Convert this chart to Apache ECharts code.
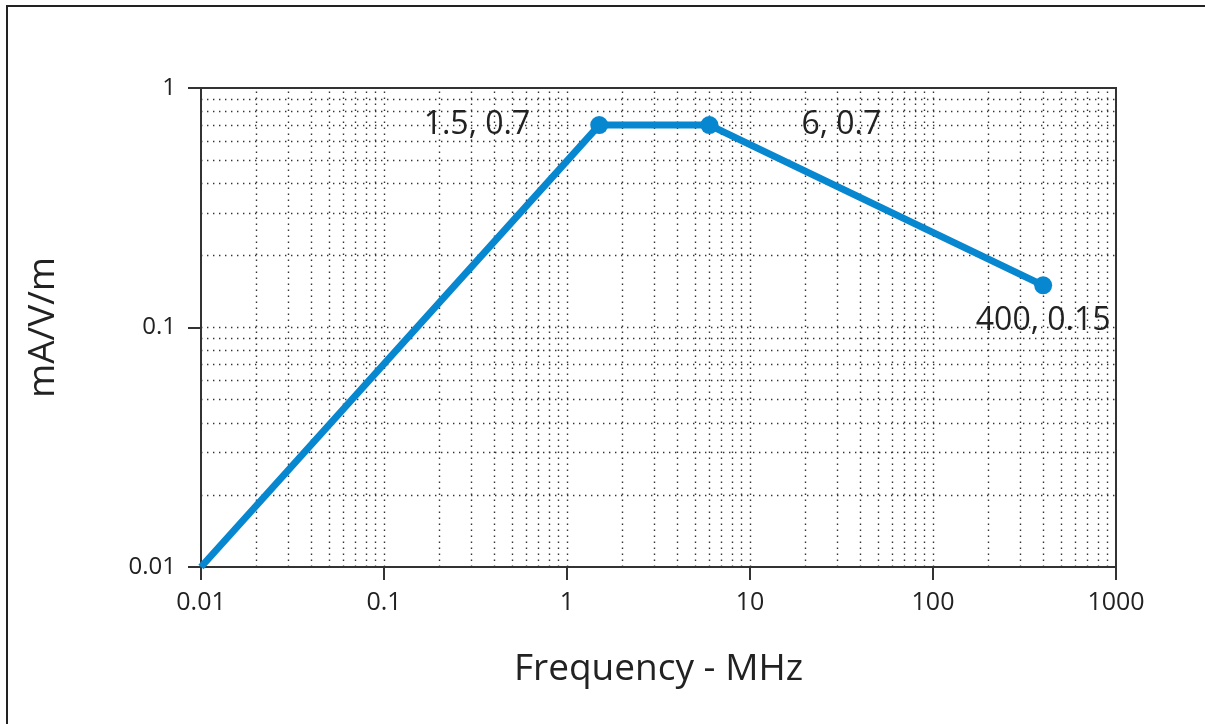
<!DOCTYPE html>
<html>
<head>
<meta charset="utf-8">
<script src="https://cdn.jsdelivr.net/npm/echarts@6/dist/echarts.min.js"></script>
<style>
  html, body { margin: 0; padding: 0; background: #fff; }
  #chart { width: 1205px; height: 724px; }
</style>
</head>
<body>
<div id="chart"></div>
<script>
// data
var freq = [0.01, 1.5, 6, 400];
var current = [0.01, 0.7, 0.7, 0.15];
var pointLabels = ['', '1.5, 0.7', '6, 0.7', '400, 0.15'];
var xTickLabels = ['0.01', '0.1', '1', '10', '100', '1000'];
var yTickLabels = ['0.01', '0.1', '1'];

// dotted log grid: 1..9 in each decade
var steps = [1, 2, 3, 4, 5, 6, 7, 8, 9];
var xDecades = [0.01, 0.1, 1, 10, 100];
var yDecades = [0.01, 0.1];

function gridValues(decades) {
    var out = [];
    decades.forEach(function (d) {
        steps.forEach(function (s) {
            var v = parseFloat((d * s).toPrecision(6));
            if (v !== decades[0]) out.push(v);
        });
    });
    return out;
}
var xGrid = gridValues(xDecades);
var yGrid = gridValues(yDecades);

function fmt(list) {
    return function (v) {
        for (var i = 0; i < list.length; i++) {
            if (Math.abs(Math.log10(v) - Math.log10(+list[i])) < 1e-6) return list[i];
        }
        return '';
    };
}

var chart = echarts.init(document.getElementById('chart'));

var gridLines = [];
xGrid.forEach(function (v) { gridLines.push({ xAxis: v }); });
yGrid.forEach(function (v) { gridLines.push({ yAxis: v }); });

var option = {
    animation: false,
    textStyle: { fontFamily: 'Open Sans' },
    graphic: [{
        type: 'rect',
        shape: { x: 7, y: 6, width: 1300, height: 800 },
        style: { fill: 'none', stroke: '#222', lineWidth: 2 },
        silent: true
    }],
    grid: {
        left: 201, right: 89, top: 88, bottom: 157,
        show: true, borderColor: '#333', borderWidth: 2,
        containLabel: false
    },
    xAxis: {
        type: 'log',
        logBase: 10,
        min: 0.01,
        max: 1000,
        name: 'Frequency - MHz',
        nameLocation: 'middle',
        nameGap: 84,
        nameTextStyle: { fontSize: 37, color: '#222', fontFamily: 'Open Sans' },
        axisLine: { show: true, lineStyle: { color: '#333', width: 2 } },
        axisTick: { show: true, inside: false, length: 13, lineStyle: { color: '#333', width: 2 } },
        axisLabel: { fontSize: 25, color: '#222', margin: 23, formatter: fmt(xTickLabels) },
        splitLine: { show: false }
    },
    yAxis: {
        type: 'log',
        logBase: 10,
        min: 0.01,
        max: 1,
        name: 'mA/V/m',
        nameLocation: 'middle',
        nameGap: 139,
        nameTextStyle: { fontSize: 37, color: '#222', fontFamily: 'Open Sans' },
        axisLine: { show: true, lineStyle: { color: '#333', width: 2 } },
        axisTick: { show: true, inside: false, length: 13, lineStyle: { color: '#333', width: 2 } },
        axisLabel: { fontSize: 24, color: '#222', margin: 25, formatter: fmt(yTickLabels) },
        splitLine: { show: false }
    },
    series: [
        {
            type: 'line',
            silent: true,
            data: [],
            markLine: {
                silent: true,
                symbol: ['none', 'none'],
                label: { show: false },
                lineStyle: { color: '#333', width: 1.4, type: [1.4, 4.6], opacity: 1 },
                emphasis: { disabled: true },
                data: gridLines
            }
        },
        {
            type: 'line',
            data: freq.map(function (f, i) {
                var item = { value: [f, current[i]] };
                if (i === 0) item.symbolSize = 0;
                return item;
            }),
            symbol: 'circle',
            symbolSize: 18,
            lineStyle: { color: '#0787cf', width: 7 },
            itemStyle: { color: '#0787cf' },
            label: {
                show: true,
                fontSize: 32,
                color: '#222',
                fontFamily: 'Open Sans',
                formatter: function (p) { return pointLabels[p.dataIndex]; }
            },
            z: 5
        }
    ]
};

// per-point label positions
option.series[1].data[1].label = { position: 'left', distance: 60 };
option.series[1].data[2].label = { position: 'right', distance: 83 };
option.series[1].data[3].label = { position: 'bottom', distance: 11 };

chart.setOption(option);
</script>
</body>
</html>
